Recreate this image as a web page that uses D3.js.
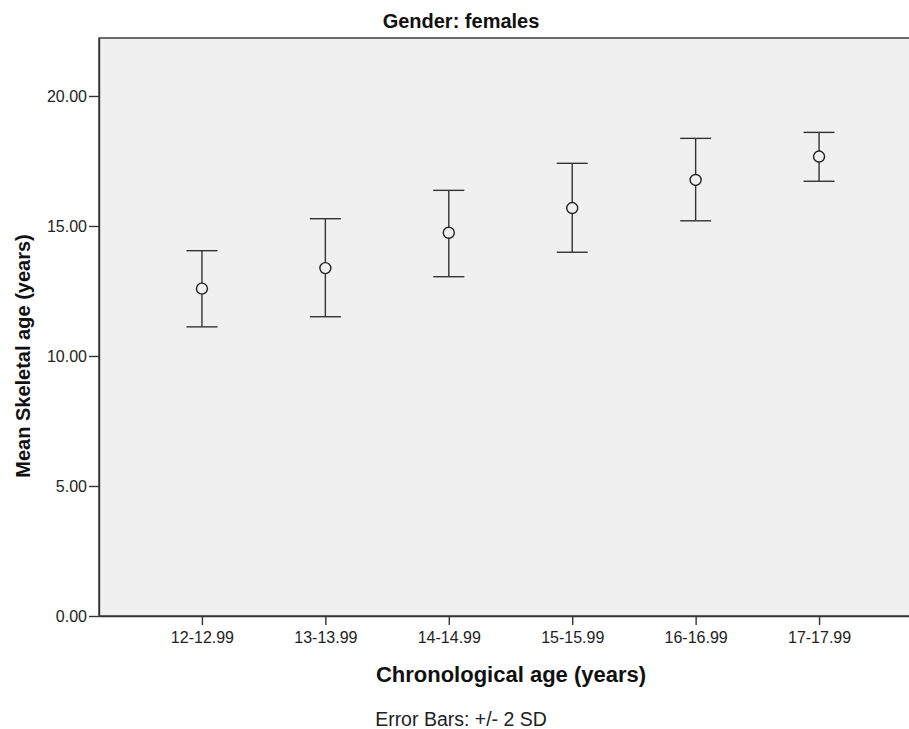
<!DOCTYPE html>
<html>
<head>
<meta charset="utf-8">
<script src="https://cdn.jsdelivr.net/npm/d3@7"></script>
<style>
  body { margin: 0; background: #fff; }
  svg { display: block; font-family: "Liberation Sans", Arial, sans-serif; }
</style>
</head>
<body>
<svg id="chart"></svg>
<script>
// age groups and mean skeletal age +/- 2 SD
const categories = ["12-12.99", "13-13.99", "14-14.99", "15-15.99", "16-16.99", "17-17.99"];
const means = [12.59, 13.38, 14.74, 15.69, 16.77, 17.67];
const upper = [14.05, 15.28, 16.37, 17.41, 18.37, 18.60];
const lower = [11.12, 11.51, 13.05, 13.99, 15.20, 16.72];
const yTicks = [0, 5, 10, 15, 20];

const width = 909, height = 729;
const margin = { top: 38, left: 99, bottom: 113 };
const plotW = 823;
const plotH = height - margin.top - margin.bottom;

const svg = d3.select("#chart")
  .attr("width", width)
  .attr("height", height);

const g = svg.append("g")
  .attr("transform", `translate(${margin.left},${margin.top})`);

const x = d3.scalePoint()
  .domain(categories)
  .range([0, plotW])
  .padding(0.834);

const y = d3.scaleLinear()
  .domain([0, 22.23])
  .range([plotH, 0]);

// plot background
g.append("rect")
  .attr("width", plotW)
  .attr("height", plotH)
  .attr("fill", "#f0f0f0")
  .attr("stroke", "#333")
  .attr("stroke-width", 1.4);

// axes
const yAxis = d3.axisLeft(y).tickValues(yTicks).tickFormat(d3.format(".2f")).tickSize(10).tickSizeOuter(0);
const xAxis = d3.axisBottom(x).tickSize(9).tickSizeOuter(0);

const yAxisG = g.append("g").call(yAxis);
const xAxisG = g.append("g").attr("transform", `translate(0,${plotH})`).call(xAxis);

[yAxisG, xAxisG].forEach(a => {
  a.attr("font-size", null).attr("font-family", null);
  a.select(".domain").attr("stroke", "#333").attr("stroke-width", 1.4);
  a.selectAll(".tick line").attr("stroke", "#333").attr("stroke-width", 1.4);
  a.selectAll(".tick text")
    .attr("fill", "#222")
    .style("font-size", "16px");
});
yAxisG.selectAll(".tick text").attr("x", -12).attr("dy", "0.35em");
xAxisG.selectAll(".tick text").attr("y", 27).attr("dy", 0);

// error bars
const rows = categories.map((c, i) => ({ c, m: means[i], hi: upper[i], lo: lower[i] }));
const capW = 31;

const bars = g.selectAll(".err")
  .data(rows)
  .join("g")
  .attr("class", "err")
  .attr("stroke", "#333")
  .attr("stroke-width", 1.4);

bars.append("line")
  .attr("x1", d => x(d.c)).attr("x2", d => x(d.c))
  .attr("y1", d => y(d.hi)).attr("y2", d => y(d.lo));
bars.append("line")
  .attr("x1", d => x(d.c) - capW / 2).attr("x2", d => x(d.c) + capW / 2)
  .attr("y1", d => y(d.hi)).attr("y2", d => y(d.hi));
bars.append("line")
  .attr("x1", d => x(d.c) - capW / 2).attr("x2", d => x(d.c) + capW / 2)
  .attr("y1", d => y(d.lo)).attr("y2", d => y(d.lo));
bars.append("circle")
  .attr("cx", d => x(d.c))
  .attr("cy", d => y(d.m))
  .attr("r", 5.5)
  .attr("fill", "#f0f0f0")
  .attr("stroke", "#222");

// titles
svg.append("text")
  .attr("x", 461).attr("y", 28)
  .attr("text-anchor", "middle")
  .style("font-size", "20px").style("font-weight", "bold")
  .attr("fill", "#111")
  .text("Gender: females");

svg.append("text")
  .attr("transform", "translate(30,356) rotate(-90)")
  .attr("text-anchor", "middle")
  .style("font-size", "20px").style("font-weight", "bold")
  .attr("fill", "#111")
  .text("Mean Skeletal age (years)");

svg.append("text")
  .attr("x", 511).attr("y", 682)
  .attr("text-anchor", "middle")
  .style("font-size", "22px").style("font-weight", "bold")
  .attr("fill", "#111")
  .text("Chronological age (years)");

svg.append("text")
  .attr("x", 461).attr("y", 726)
  .attr("text-anchor", "middle")
  .style("font-size", "19.5px")
  .attr("fill", "#222")
  .text("Error Bars: +/- 2 SD");
</script>
</body>
</html>
